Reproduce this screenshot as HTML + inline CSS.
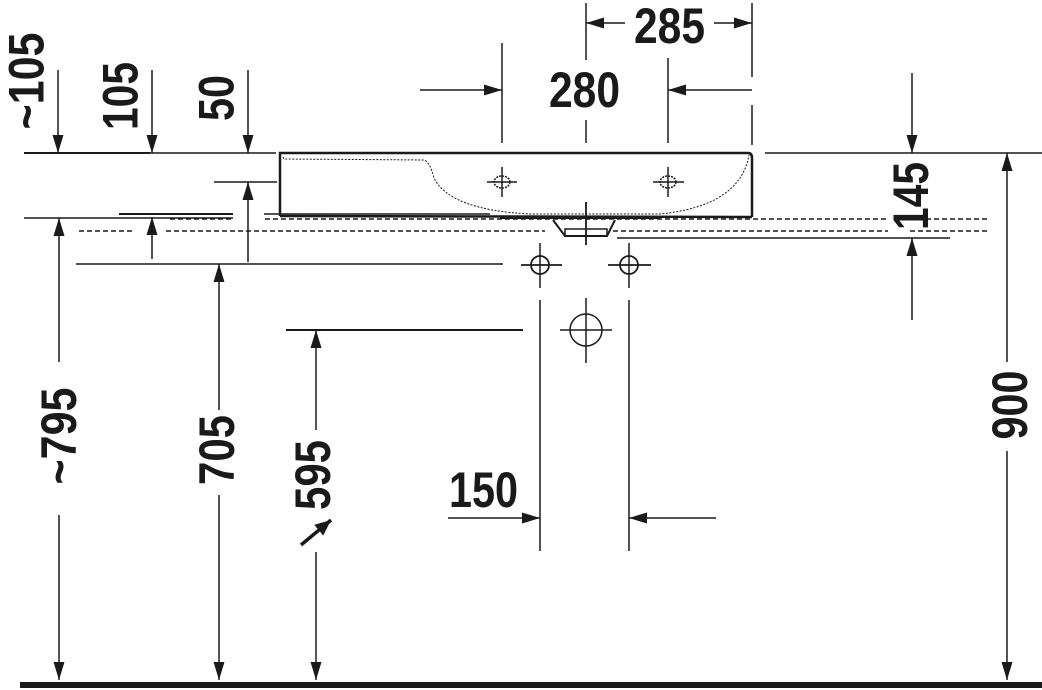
<!DOCTYPE html>
<html><head><meta charset="utf-8"><style>
html,body{margin:0;padding:0;background:#fff;}
svg{display:block}
text{font-family:"Liberation Sans Narrow","Liberation Sans",sans-serif;font-weight:bold;font-size:50px;fill:#1a1a1a}
</style></head><body>
<svg width="1042" height="690" viewBox="0 0 1042 690" xmlns="http://www.w3.org/2000/svg">
<defs>
<marker id="a" viewBox="0 0 18 12" refX="18" refY="6" markerWidth="18" markerHeight="12" markerUnits="userSpaceOnUse" orient="auto"><path d="M0,0.5 L18,6 L0,11.5 Z" fill="#1a1a1a"/></marker>
<marker id="b" viewBox="0 0 16 14" refX="16" refY="7" markerWidth="16" markerHeight="14" markerUnits="userSpaceOnUse" orient="auto"><path d="M0,0 L16,7 L0,14 Z" fill="#1a1a1a"/></marker>
</defs>
<g stroke="#1a1a1a" fill="none" stroke-width="1.5">
<!-- floor -->
<line x1="20" y1="685" x2="1042" y2="685" stroke-width="6"/>
<!-- top reference lines -->
<line x1="24" y1="153" x2="150" y2="153" stroke-width="2"/>
<line x1="150" y1="153" x2="276" y2="153"/>
<line x1="765" y1="153" x2="1042" y2="153"/>
<line x1="24" y1="218" x2="233" y2="218"/>
<line x1="119" y1="214" x2="233" y2="214" stroke-width="2"/>
<line x1="264" y1="214" x2="490" y2="214"/>
<line x1="76" y1="264" x2="503" y2="264"/>
<line x1="214" y1="182" x2="277" y2="182"/>
<line x1="617" y1="238" x2="950" y2="238"/>
<line x1="286" y1="330" x2="523" y2="330" stroke-width="2"/>
<!-- dashed -->
<g stroke-dasharray="5,3">
<line x1="170" y1="219" x2="233" y2="219"/>
<line x1="265" y1="219" x2="888" y2="219"/>
<line x1="910" y1="219" x2="987" y2="219"/>
<line x1="79" y1="231" x2="135" y2="231"/>
<line x1="166" y1="231" x2="545" y2="231"/>
<line x1="613" y1="231" x2="888" y2="231"/>
<line x1="910" y1="231" x2="987" y2="231"/>
</g>
<!-- basin -->
<path d="M280,216 L280,153 L748,153 Q752,153 752,158 L752,217" stroke-width="2.5"/>
<line x1="280" y1="216" x2="752" y2="217" stroke-width="2.5"/>
<path d="M500,218 L660,218" stroke-width="2"/>
<path d="M283,157 L284,159 L424,160 Q430,162 434,178 Q450,210 530,214 L660,214 Q740,206 749,155" stroke-dasharray="2,1.5" stroke-width="1"/>
<path d="M553,220 L565,236 L607,236 L615,220" stroke-width="2"/>
<rect x="565" y="229" width="42" height="7" stroke-width="1.5"/>
<!-- top holes -->
<ellipse cx="502" cy="182" rx="8" ry="6" stroke-dasharray="2,1"/>
<line x1="487" y1="182" x2="517" y2="182"/><line x1="502" y1="167" x2="502" y2="197"/>
<ellipse cx="668" cy="182" rx="8" ry="6" stroke-dasharray="2,1"/>
<line x1="653" y1="182" x2="684" y2="182"/><line x1="668" y1="167" x2="668" y2="197"/>
<!-- holes below -->
<circle cx="540" cy="265" r="9" stroke-width="1.8"/>
<line x1="521" y1="265" x2="562" y2="265" stroke-width="1.8"/><line x1="540" y1="243" x2="540" y2="288"/>
<circle cx="629" cy="265" r="9" stroke-width="1.8"/>
<line x1="608" y1="265" x2="651" y2="265" stroke-width="1.8"/><line x1="629" y1="243" x2="629" y2="288"/>
<circle cx="586" cy="330" r="16"/>
<line x1="560" y1="330" x2="612" y2="330"/><line x1="586" y1="298" x2="586" y2="363"/>
<!-- vertical lines for 150 -->
<line x1="540" y1="300" x2="540" y2="551"/>
<line x1="629" y1="300" x2="629" y2="551"/>
<!-- 285 / 280 -->
<line x1="586" y1="3" x2="586" y2="60"/><line x1="586" y1="120" x2="586" y2="143"/>
<line x1="586" y1="202" x2="586" y2="245" stroke-width="1.8"/>
<line x1="752" y1="3" x2="752" y2="77"/><line x1="752" y1="105" x2="752" y2="145"/>
<line x1="502" y1="43" x2="502" y2="143"/>
<line x1="668" y1="58" x2="668" y2="143"/>
<line x1="625" y1="23" x2="586" y2="23" marker-end="url(#a)" stroke-width="1.5"/>
<line x1="714" y1="23" x2="752" y2="23" marker-end="url(#a)" stroke-width="1.5"/>
<line x1="420" y1="90" x2="502" y2="90" marker-end="url(#a)"/>
<line x1="752" y1="90" x2="668" y2="90" marker-end="url(#a)"/>
<!-- left dims -->
<line x1="58" y1="70" x2="58" y2="153" marker-end="url(#a)"/>
<line x1="152" y1="70" x2="152" y2="153" marker-end="url(#a)"/>
<line x1="248" y1="70" x2="248" y2="153" marker-end="url(#a)"/>
<line x1="248" y1="262" x2="248" y2="182" marker-end="url(#a)"/>
<line x1="152" y1="259" x2="152" y2="217" marker-end="url(#a)"/>
<line x1="59" y1="362" x2="59" y2="218" marker-end="url(#a)"/>
<line x1="59" y1="515" x2="59" y2="680" marker-end="url(#a)"/>
<line x1="219" y1="410" x2="219" y2="264" marker-end="url(#a)"/>
<line x1="219" y1="495" x2="219" y2="680" marker-end="url(#a)"/>
<line x1="316" y1="430" x2="316" y2="330" marker-end="url(#a)"/>
<line x1="316" y1="552" x2="316" y2="680" marker-end="url(#a)"/>
<line x1="301" y1="545" x2="331" y2="520" marker-end="url(#b)" stroke-width="3.5"/>
<!-- 150 -->
<line x1="448" y1="518" x2="540" y2="518" marker-end="url(#a)"/>
<line x1="716" y1="518" x2="629" y2="518" marker-end="url(#a)"/>
<!-- right dims -->
<line x1="912" y1="73" x2="912" y2="153" marker-end="url(#a)"/>
<line x1="912" y1="320" x2="912" y2="238" marker-end="url(#a)"/>
<line x1="1007" y1="362" x2="1007" y2="153" marker-end="url(#a)"/>
<line x1="1007" y1="451" x2="1007" y2="680" marker-end="url(#a)"/>
</g>
<!-- texts -->
<text x="669.5" y="43" text-anchor="middle" textLength="71" lengthAdjust="spacingAndGlyphs">285</text>
<text x="584.5" y="107" text-anchor="middle" textLength="71" lengthAdjust="spacingAndGlyphs">280</text>
<text x="483.5" y="507" text-anchor="middle" textLength="69" lengthAdjust="spacingAndGlyphs">150</text>
<text transform="translate(25.5,81) rotate(-90)" y="18" text-anchor="middle" textLength="97" lengthAdjust="spacingAndGlyphs">~105</text>
<text transform="translate(119.5,96) rotate(-90)" y="18" text-anchor="middle" textLength="68" lengthAdjust="spacingAndGlyphs">105</text>
<text transform="translate(215.5,98) rotate(-90)" y="18" text-anchor="middle" textLength="46" lengthAdjust="spacingAndGlyphs">50</text>
<text transform="translate(58,436) rotate(-90)" y="18" text-anchor="middle" textLength="97" lengthAdjust="spacingAndGlyphs">~795</text>
<text transform="translate(216,450) rotate(-90)" y="18" text-anchor="middle" textLength="70" lengthAdjust="spacingAndGlyphs">705</text>
<text transform="translate(312,475) rotate(-90)" y="18" text-anchor="middle" textLength="70" lengthAdjust="spacingAndGlyphs">595</text>
<text transform="translate(910,196) rotate(-90)" y="18" text-anchor="middle" textLength="68" lengthAdjust="spacingAndGlyphs">145</text>
<text transform="translate(1009,405) rotate(-90)" y="18" text-anchor="middle" textLength="69" lengthAdjust="spacingAndGlyphs">900</text>
</svg>
</body></html>
